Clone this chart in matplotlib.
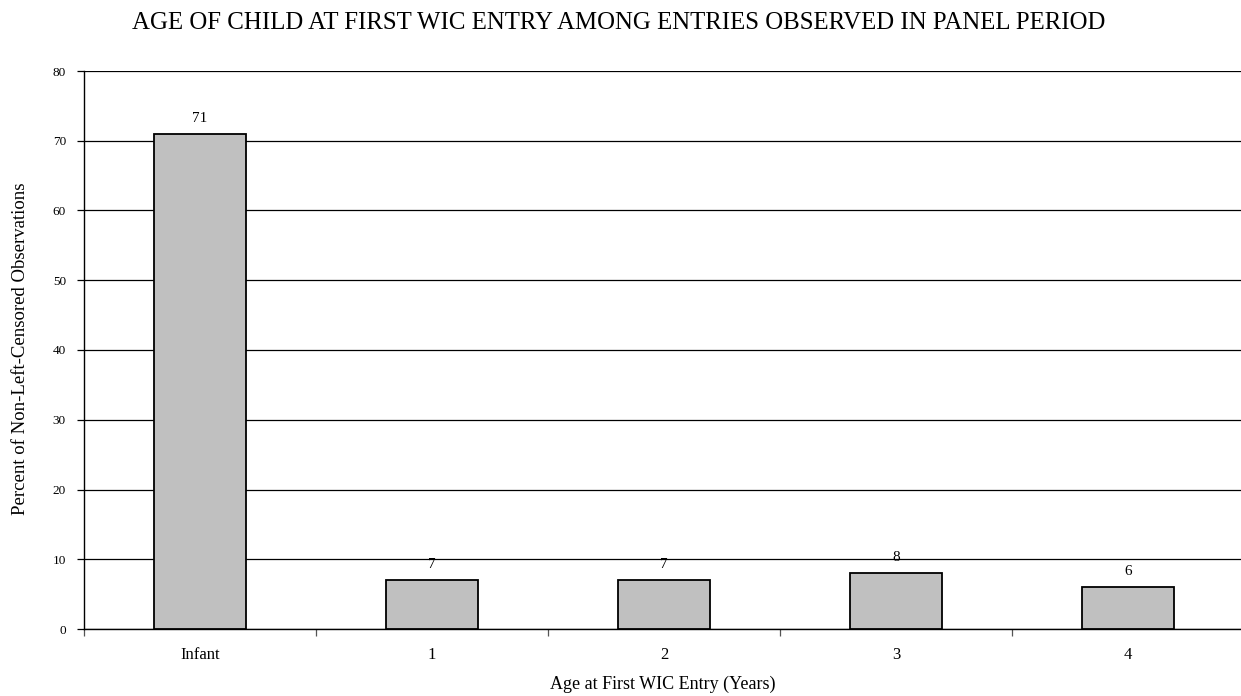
import matplotlib
matplotlib.use("Agg")
import matplotlib.pyplot as plt
from matplotlib.ticker import FixedLocator

categories = ["Infant", "1", "2", "3", "4"]
values = [71, 7, 7, 8, 6]
yticks = [0, 10, 20, 30, 40, 50, 60, 70, 80]

plt.rcParams['font.family'] = ['Liberation Serif', 'DejaVu Serif']

W, H = 1241, 696
fig = plt.figure(figsize=(W/100, H/100), dpi=100)
ax = fig.add_axes([84/W, 1 - 629/H, (1244-84)/W, (629-71)/H])

x = list(range(len(categories)))
ax.bar(x, values, width=0.4, color="#c0c0c0", edgecolor="black", linewidth=1.3, zorder=3)
for xi, v in zip(x, values):
    ax.annotate(str(v), (xi, v), xytext=(0, 11), textcoords="offset points",
                ha="center", va="center", fontsize=11)

ax.set_xlim(-0.5, len(categories) - 0.5)
ax.set_ylim(0, 80)
ax.set_yticks(yticks)
ax.yaxis.grid(True, color="black", linewidth=0.9, zorder=0)
ax.set_axisbelow(True)

ax.set_xticks(x)
ax.set_xticklabels(categories, fontsize=12)
ax.tick_params(axis="x", which="major", length=0, pad=13)
ax.xaxis.set_minor_locator(FixedLocator([i + 0.5 for i in range(-1, len(categories))]))
ax.tick_params(axis="x", which="minor", length=5, width=0.9, color="#555555")
ax.tick_params(axis="y", length=5, width=0.9, labelsize=9.5, pad=8)

for s in ["top", "right"]:
    ax.spines[s].set_visible(False)
ax.spines["left"].set_linewidth(1.0)
ax.spines["bottom"].set_linewidth(1.0)

ax.set_xlabel("Age at First WIC Entry (Years)", fontsize=13, va="center")
ax.xaxis.set_label_coords((663 - 84) / (1244 - 84), -(684 - 629) / (629 - 71))
ax.set_ylabel("Percent of Non-Left-Censored Observations", fontsize=13.5, va="center")
ax.yaxis.set_label_coords(-(84 - 20) / (1244 - 84), (629 - 349) / (629 - 71))
fig.text(619/W, 1 - 29/H, "AGE OF CHILD AT FIRST WIC ENTRY AMONG ENTRIES OBSERVED IN PANEL PERIOD",
         ha="center", va="baseline", fontsize=17.9)

fig.savefig("out.png", dpi=100)
